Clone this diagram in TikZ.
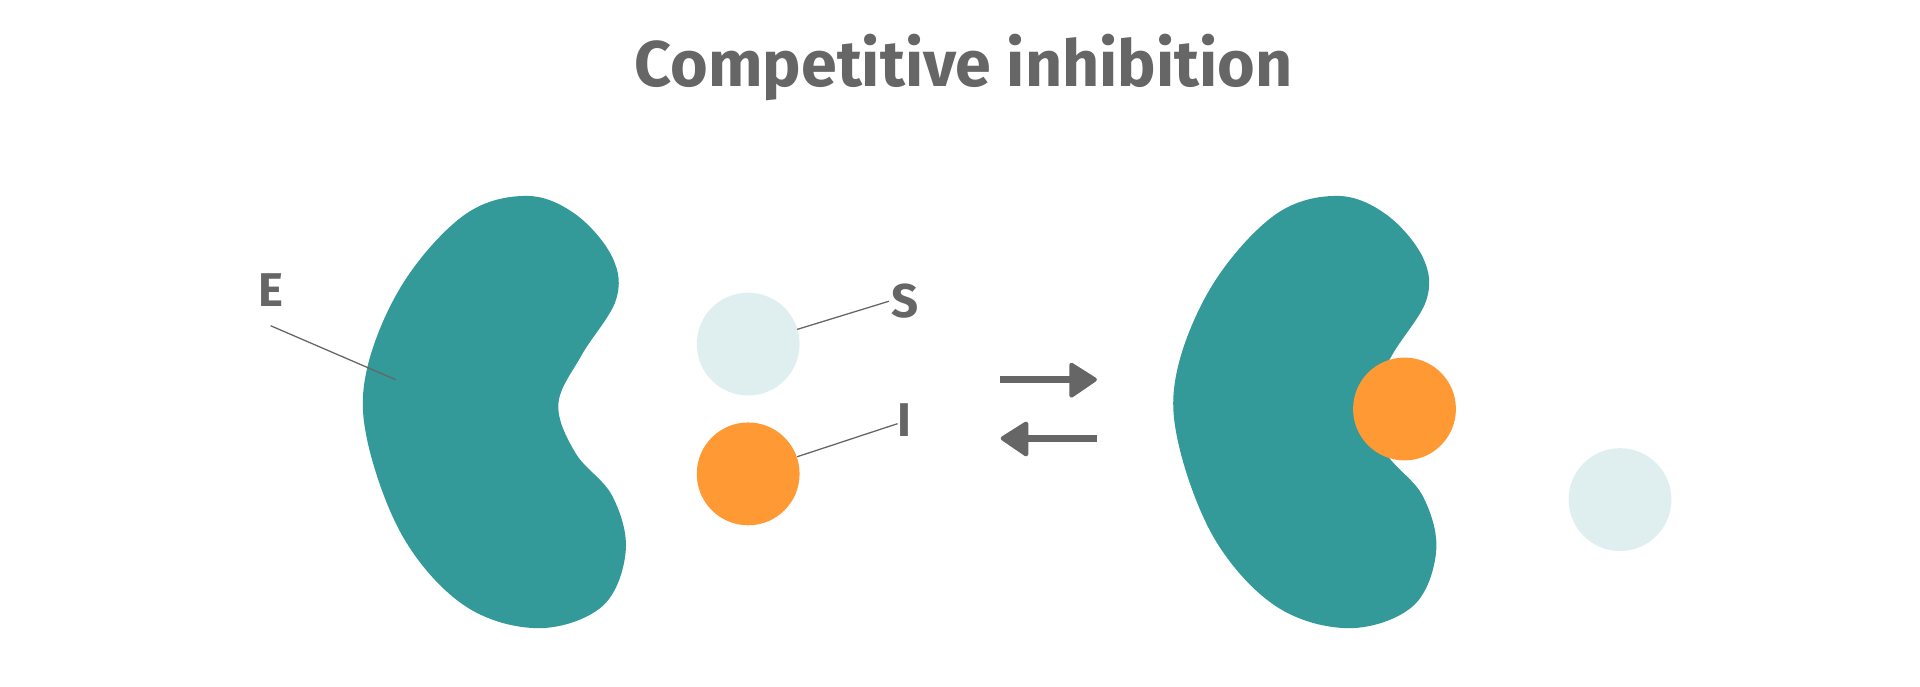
\documentclass[tikz,border=0pt]{standalone}
\usepackage{fontspec}
\setmainfont{Fira Sans}
\usepackage{tikz}
\definecolor{teal}{HTML}{339999}
\definecolor{pale}{HTML}{DFEFEF}
\definecolor{orng}{HTML}{FF9933}
\definecolor{txt}{HTML}{666666}
\tikzset{
  mol/.style={circle,minimum size=1.68cm,inner sep=0pt},
  lbl/.style={text=txt,font=\fontsize{22}{22}\selectfont\bfseries},
  lead/.style={draw=txt,line width=0.6pt},
  flow/.style={draw=txt,line width=3pt},
  tip/.style={fill=txt,draw=txt,line width=2pt,line join=round}
}
\begin{document}
\begin{tikzpicture}
[x=0.02cm,y=-0.02cm]
\useasboundingbox (0,0) rectangle (1568,561);
\node[text=txt,font=\fontsize{30}{30}\selectfont\bfseries] (title) at (787,55) {Competitive inhibition};

% enzymes
\fill[teal] plot[smooth cycle,tension=0.6] coordinates {(430,160) (470,175) (500,210) (503,245) (475,290) (456,330) (470,370) (500,405) (511,450) (492,495) (440,513) (380,495) (330,440) (300,360) (300,300) (330,230) (380,175)};
\begin{scope}[xshift=13.24cm]
\fill[teal] plot[smooth cycle,tension=0.6] coordinates {(430,160) (470,175) (500,210) (503,245) (475,290) (456,330) (470,370) (500,405) (511,450) (492,495) (440,513) (380,495) (330,440) (300,360) (300,300) (330,230) (380,175)};
\end{scope}

% molecules
\node[mol,fill=pale] (s1) at (611,281) {};
\node[mol,fill=orng] (i1) at (611,387) {};
\node[mol,fill=orng] (i2) at (1147,334) {};
\node[mol,fill=pale] (s2) at (1323,408) {};

% labels
\node[lbl] (e) at (221,237) {E};
\node[lbl] (s) at (739,246) {S};
\node[lbl] (i) at (739,343) {I};
\coordinate (e0) at (221,266);
\coordinate (e1) at (323,310);
\coordinate (s0) at (651,269);
\coordinate (s1e) at (726,246);
\coordinate (i0) at (651,373);
\coordinate (i1e) at (733,346);
\draw[lead] (e0) -- (e1);
\draw[lead] (s0) -- (s1e);
\draw[lead] (i0) -- (i1e);

% equilibrium arrows
\coordinate (a0) at (817,310);
\coordinate (a1) at (875,310);
\coordinate (b0) at (896,358);
\coordinate (b1) at (838,358);
\draw[flow] (a0) -- (a1);
\draw[flow] (b0) -- (b1);
\filldraw[tip] (875,298) -- (894,310) -- (875,323) -- cycle;
\filldraw[tip] (838,346) -- (819,358) -- (838,371) -- cycle;
\end{tikzpicture}
\end{document}
